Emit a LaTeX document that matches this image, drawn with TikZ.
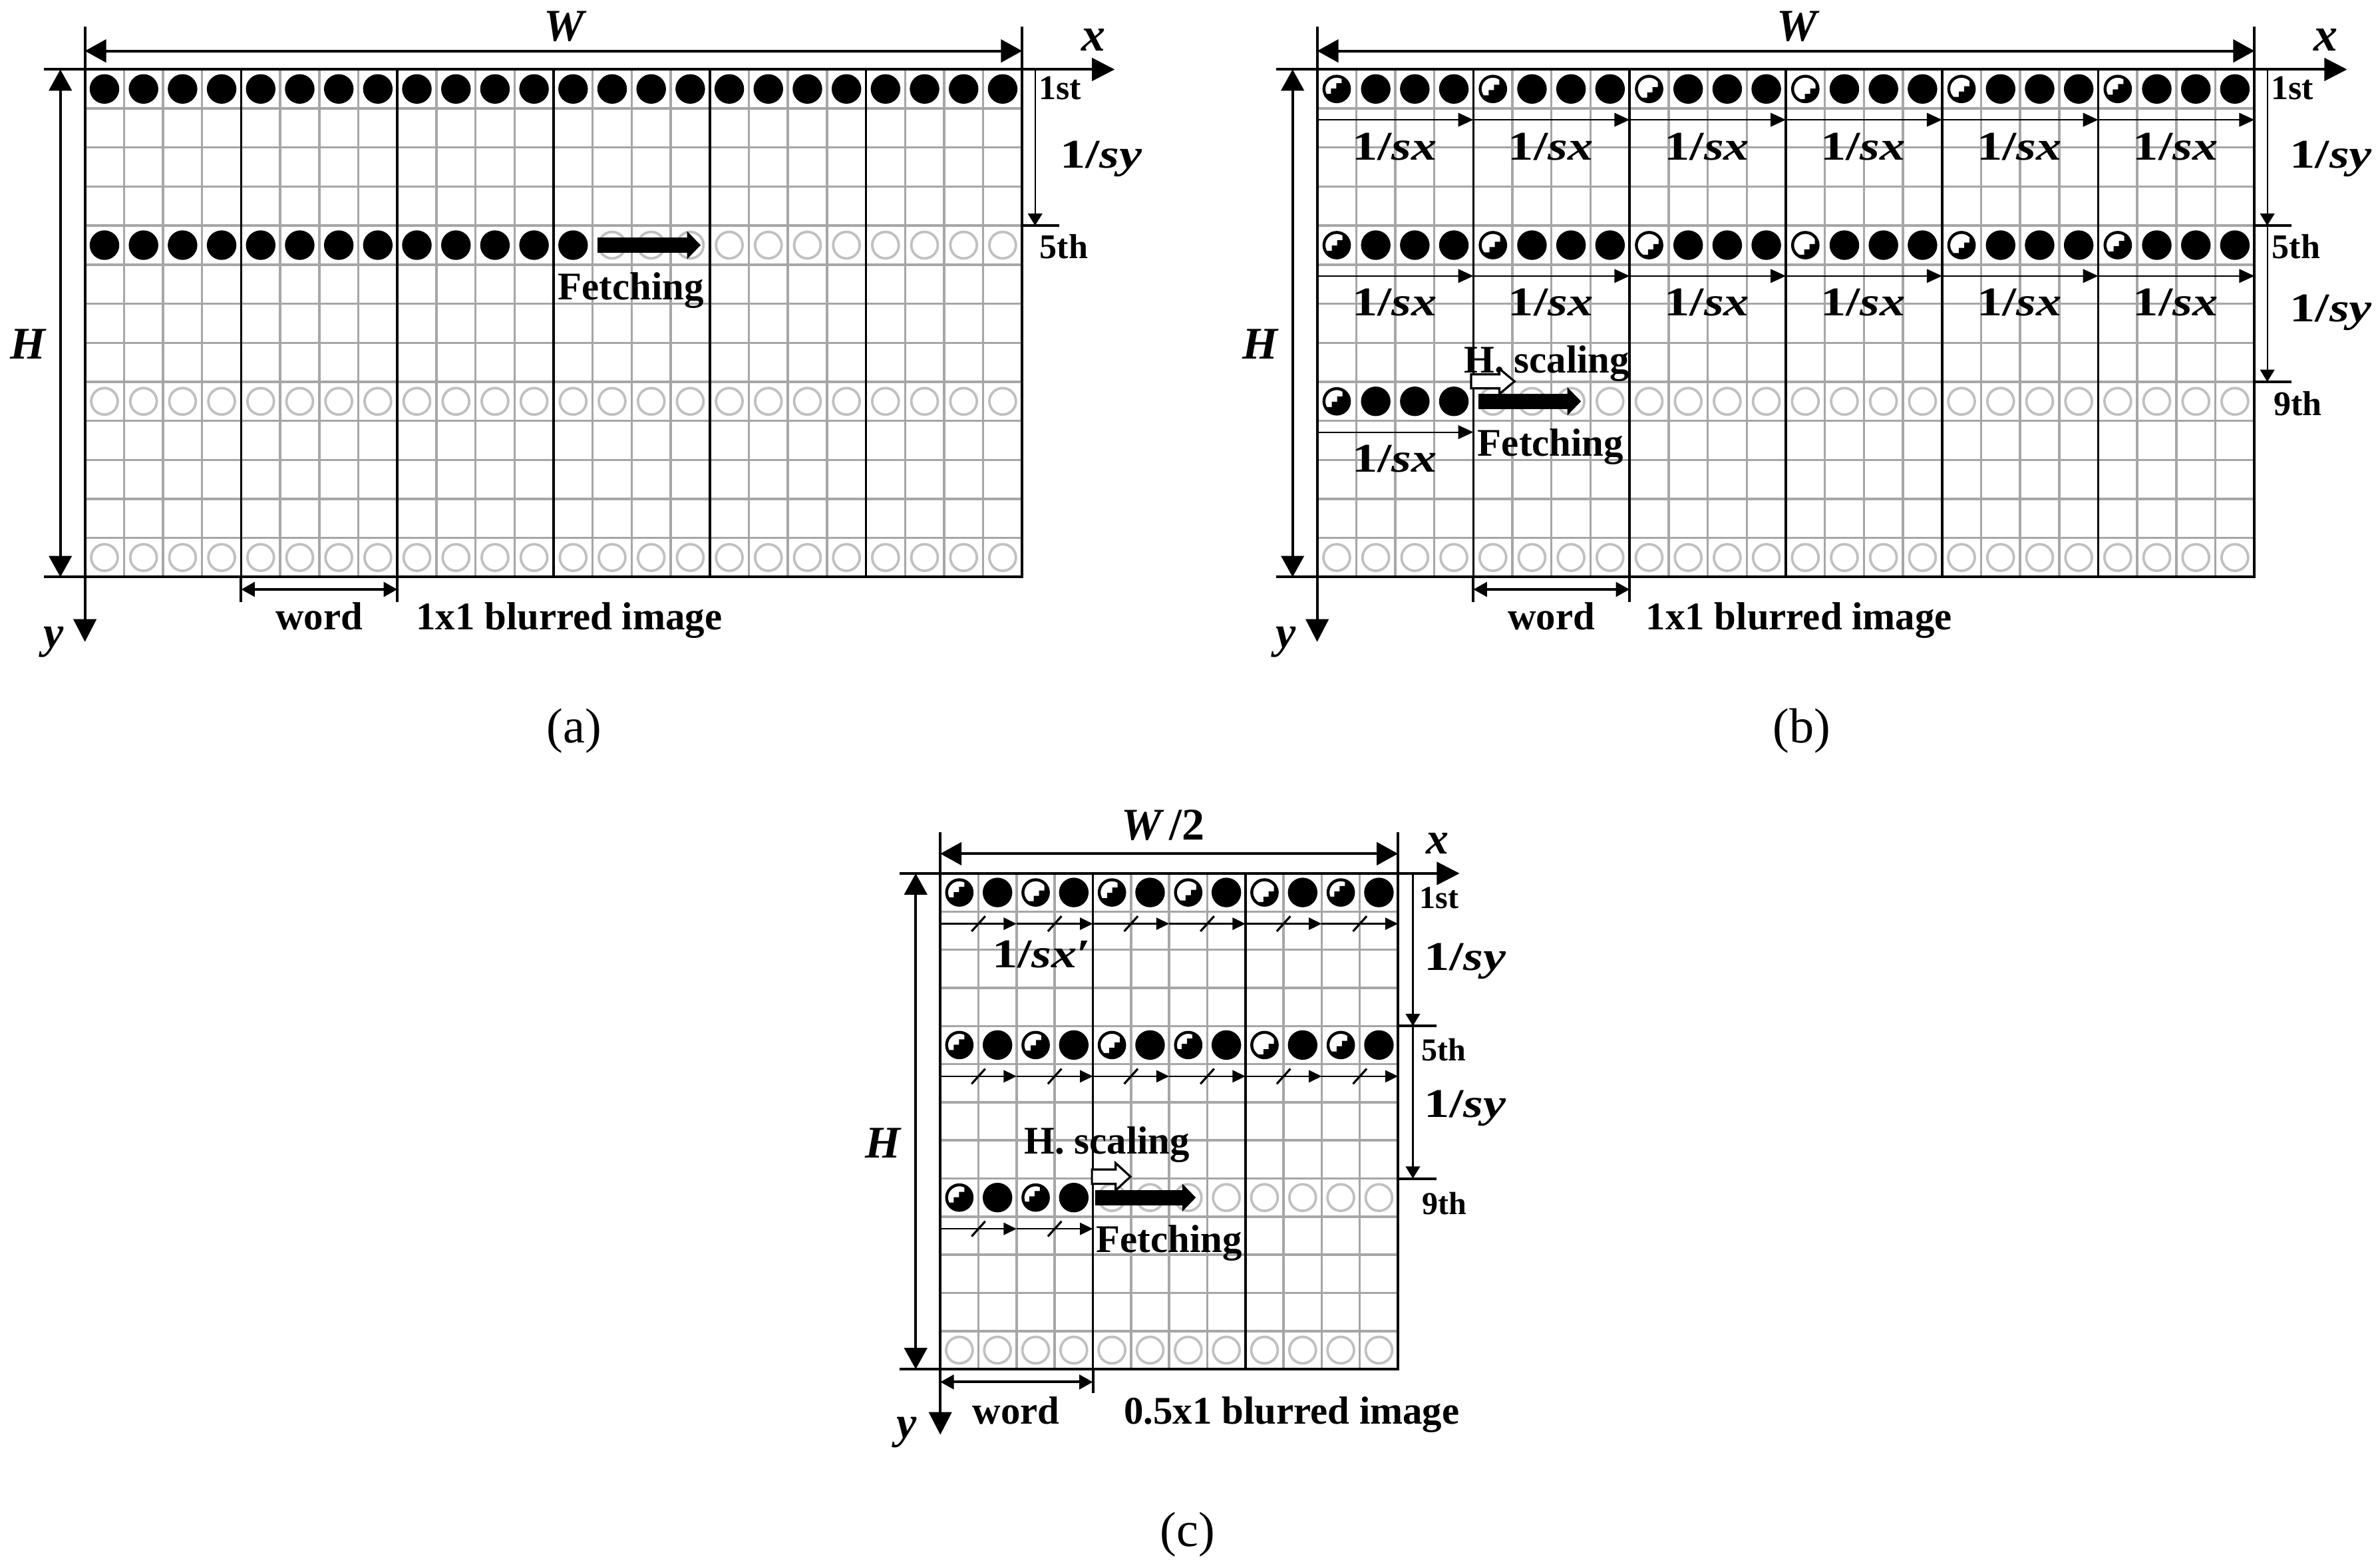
\documentclass[tikz,border=0pt]{standalone}
\usepackage{fontspec}
\setmainfont{Liberation Serif}
\usepackage{graphicx}
\usetikzlibrary{arrows.meta}
\definecolor{gridg}{HTML}{A6A6A6}
\definecolor{circg}{HTML}{C0C0C0}
\newcommand\bdot[2]{\fill[black] ({#1},{#2}) circle[radius=0.195cm];}
\newcommand\gdot[2]{\draw[circg,line width=0.95pt] ({#1},{#2}) circle[radius=0.175cm];}
\newcommand\pdot[3]{%
 \begin{scope}[shift={({#1},{#2})}]
  \begin{scope}
   \clip (0,0) circle[radius=0.16cm];
   \begin{scope}[shift={({-(#3+0.02)*1cm},{(#3+0.02)*1cm})}]
    \fill[black] (-0.3cm,-0.3cm) -- (-0.3cm,-0.175cm) -- (-0.105cm,-0.175cm) -- (-0.105cm,-0.105cm) -- (-0.035cm,-0.105cm) -- (-0.035cm,-0.035cm) -- (0.035cm,-0.035cm) -- (0.035cm,0.035cm) -- (0.105cm,0.035cm) -- (0.105cm,0.105cm) -- (0.175cm,0.105cm) -- (0.175cm,0.3cm) -- (0.3cm,0.3cm) -- (0.3cm,-0.3cm) -- cycle;
   \end{scope}
  \end{scope}
  \draw[black,line width=1.1pt] (0,0) circle[radius=0.168cm];
 \end{scope}}
\newcommand\panelgrid[4]{%
 \pgfmathsetmacro\pR{#1+#4*#3}%
 \pgfmathsetmacro\pB{#2+13*#3}%
 \pgfmathtruncatemacro\pN{#4-1}%
 \foreach \i in {1,...,\pN}{\draw[gridline] ({#1+\i*#3},#2) -- ({#1+\i*#3},\pB);}%
 \foreach \j in {1,...,12}{\draw[gridline] (#1,{#2+\j*#3}) -- (\pR,{#2+\j*#3});}%
}
\newcommand\panelwords[4]{%
 \pgfmathsetmacro\pR{#1+#4*#3}%
 \pgfmathsetmacro\pB{#2+13*#3}%
 \pgfmathtruncatemacro\pW{#4/4-1}%
 \foreach \w in {1,...,\pW}{\draw[wordline] ({#1+4*\w*#3},#2) -- ({#1+4*\w*#3},\pB);}%
 \draw[frameline] (#1,#2) rectangle (\pR,\pB);%
}
\newcommand\mlab[1]{\scalebox{1.25}[1]{#1}}
\begin{document}
\begin{tikzpicture}[x=0.02cm,y=-0.02cm,
 gridline/.style={draw=gridg,line width=0.85pt},
 wordline/.style={draw=black,line width=0.95pt},
 frameline/.style={draw=black,line width=1pt},
 axisarrow/.style={draw=black,line width=1pt,-{Triangle[length=0.3cm,width=0.3cm]}},
 bigdim/.style={draw=black,line width=1pt,{Triangle[length=0.28cm,width=0.3cm]}-{Triangle[length=0.28cm,width=0.3cm]}},
 smalldim/.style={draw=black,line width=1pt,{Triangle[length=0.18cm,width=0.19cm]}-{Triangle[length=0.18cm,width=0.19cm]}},
 thinarrow/.style={draw=black,line width=0.55pt,-{Triangle[length=0.2cm,width=0.18cm]}},
 tinyarrow/.style={draw=black,line width=0.6pt,-{Triangle[length=0.17cm,width=0.16cm]}},
 syarrow/.style={draw=black,line width=0.55pt,-{Triangle[length=0.16cm,width=0.19cm]}},
 fetch/.style={draw=black,line width=5.7pt,-{Triangle[length=0.18cm,width=0.36cm]}},
 hollowarrow/.style={draw=black,fill=white,line width=0.8pt},
 slash/.style={draw=black,line width=0.8pt},
 txt/.style={font=\fontsize{14.7pt}{16pt}\selectfont\bfseries,inner sep=0pt},
 ordab/.style={font=\fontsize{13pt}{14pt}\selectfont\bfseries,inner sep=0pt},
 ordc/.style={font=\fontsize{12pt}{13pt}\selectfont\bfseries,inner sep=0pt},
 mathlab/.style={font=\fontsize{15.3pt}{17pt}\selectfont\bfseries,inner sep=0pt,anchor=base},
 varlab/.style={font=\fontsize{17pt}{19pt}\selectfont\bfseries\itshape,inner sep=0pt},
 xlab/.style={font=\fontsize{18pt}{20pt}\selectfont\bfseries\itshape,inner sep=0pt},
 captext/.style={font=\fontsize{18.5pt}{20pt}\selectfont,inner sep=0pt}]
\useasboundingbox (0,0) rectangle (1568,1034);

%%%%%%%%%%%%%%%% panel (a)
\panelgrid{56}{45.8}{25.75}{24}
\foreach \k in {1,...,24}{\bdot{56+(\k-0.5)*25.75}{58.675}}
\foreach \k in {1,...,13}{\bdot{56+(\k-0.5)*25.75}{161.675}}
\foreach \k in {14,...,24}{\gdot{56+(\k-0.5)*25.75}{161.675}}
\foreach \k in {1,...,24}{\gdot{56+(\k-0.5)*25.75}{264.675}\gdot{56+(\k-0.5)*25.75}{367.675}}
\panelwords{56}{45.8}{25.75}{24}
\coordinate (aO) at (56,45.8);
\coordinate (aXe) at (735,45.8);
\coordinate (aYt) at (56,17.5);
\coordinate (aYe) at (56,423.3);
\coordinate (aRt) at (674,17.5);
\coordinate (aR) at (674,45.8);
\draw[axisarrow] (aO) -- (aXe);
\draw[axisarrow] (aYt) -- (aYe);
\draw[frameline] (aRt) -- (aR);
\coordinate (aW1) at (56,33.6); \coordinate (aW2) at (674,33.6);
\draw[bigdim] (aW1) -- (aW2);
\coordinate (aHt1) at (29,45.8); \coordinate (aHb1) at (29,380.55); \coordinate (aHb2) at (56,380.55);
\draw[frameline] (aHt1) -- (aO);
\draw[frameline] (aHb1) -- (aHb2);
\coordinate (aH1) at (39.8,45.8); \coordinate (aH2) at (39.8,380.55);
\draw[bigdim] (aH1) -- (aH2);
\node[varlab,anchor=base] (aWl) at (372,27) {W};
\node[xlab,anchor=base] (aXl) at (721,33.6) {x};
\node[varlab,anchor=base] (aYl) at (35.4,427) {y};
\node[varlab] (aHl) at (18.3,227) {H};
\coordinate (aS1) at (682.5,45.8); \coordinate (aS2) at (682.5,148.8);
\coordinate (aT1) at (674,148.8); \coordinate (aT2) at (698.5,148.8);
\draw[syarrow] (aS1) -- (aS2);
\draw[frameline] (aT1) -- (aT2);
\node[ordab] (a1st) at (699,58) {1st};
\node[ordab] (a5th) at (701.5,162.5) {5th};
\node[mathlab] (asy) at (726,110.6) {\mlab{1/\textit{sy}}};
\coordinate (aw1) at (159,380.55); \coordinate (aw1b) at (159,397);
\coordinate (aw2) at (262,380.55); \coordinate (aw2b) at (262,397);
\draw[frameline] (aw1) -- (aw1b);
\draw[frameline] (aw2) -- (aw2b);
\coordinate (awd1) at (159,388.7); \coordinate (awd2) at (262,388.7);
\draw[smalldim] (awd1) -- (awd2);
\node[txt,anchor=base] (aword) at (210.5,415.3) {word};
\node[txt,anchor=base west] (ablur) at (274,415.3) {1x1 blurred image};
\coordinate (aF1) at (394,161.675); \coordinate (aF2) at (462,161.675);
\draw[fetch] (aF1) -- (aF2);
\node[txt,anchor=base] (afetch) at (416,197.5) {Fetching};
\node[captext] (acap) at (378.6,482) {(a)};

%%%%%%%%%%%%%%%% panel (b)
\panelgrid{868.5}{45.8}{25.75}{24}
\foreach \w/\off in {0/0.02,1/0,2/-0.03,3/-0.05,4/-0.02,5/0.01}{%
  \pdot{868.5+(4*\w+0.5)*25.75}{58.675}{\off}
  \foreach \j in {1,2,3}{\bdot{868.5+(4*\w+\j+0.5)*25.75}{58.675}}}
\foreach \w/\off in {0/0.01,1/-0.01,2/-0.04,3/-0.04,4/-0.02,5/0}{%
  \pdot{868.5+(4*\w+0.5)*25.75}{161.675}{\off}
  \foreach \j in {1,2,3}{\bdot{868.5+(4*\w+\j+0.5)*25.75}{161.675}}}
\pdot{868.5+0.5*25.75}{264.675}{0.01}
\foreach \k in {2,3,4}{\bdot{868.5+(\k-0.5)*25.75}{264.675}}
\foreach \k in {5,...,24}{\gdot{868.5+(\k-0.5)*25.75}{264.675}}
\foreach \k in {1,...,24}{\gdot{868.5+(\k-0.5)*25.75}{367.675}}
\panelwords{868.5}{45.8}{25.75}{24}
\foreach \w in {0,...,5}{%
  \draw[thinarrow] ({868.5+103*\w},79) -- ({868.5+103*(\w+1)},79);
  \node[mathlab] at ({919.5+103*\w},105.3) {\mlab{1/\textit{sx}}};
  \draw[thinarrow] ({868.5+103*\w},182) -- ({868.5+103*(\w+1)},182);
  \node[mathlab] at ({919.5+103*\w},208.3) {\mlab{1/\textit{sx}}};}
\coordinate (bR1) at (868.5,285); \coordinate (bR2) at (971.5,285);
\draw[thinarrow] (bR1) -- (bR2);
\node[mathlab] (bsx9) at (919.5,311.3) {\mlab{1/\textit{sx}}};
\coordinate (bO) at (868.5,45.8);
\coordinate (bXe) at (1547.6,45.8);
\coordinate (bYt) at (868.5,17.5);
\coordinate (bYe) at (868.5,423.3);
\coordinate (bRt) at (1486.5,17.5);
\coordinate (bR) at (1486.5,45.8);
\draw[axisarrow] (bO) -- (bXe);
\draw[axisarrow] (bYt) -- (bYe);
\draw[frameline] (bRt) -- (bR);
\coordinate (bW1) at (868.5,33.6); \coordinate (bW2) at (1486.5,33.6);
\draw[bigdim] (bW1) -- (bW2);
\coordinate (bHt1) at (841.5,45.8); \coordinate (bHb1) at (841.5,380.55); \coordinate (bHb2) at (868.5,380.55);
\draw[frameline] (bHt1) -- (bO);
\draw[frameline] (bHb1) -- (bHb2);
\coordinate (bH1) at (852.3,45.8); \coordinate (bH2) at (852.3,380.55);
\draw[bigdim] (bH1) -- (bH2);
\node[varlab,anchor=base] (bWl) at (1185,27) {W};
\node[xlab,anchor=base] (bXl) at (1533.5,33.6) {x};
\node[varlab,anchor=base] (bYl) at (847.9,427) {y};
\node[varlab] (bHl) at (830.8,227) {H};
\coordinate (bS1) at (1495,45.8); \coordinate (bS2) at (1495,148.8); \coordinate (bS3) at (1495,251.8);
\coordinate (bT1) at (1486.5,148.8); \coordinate (bT2) at (1511,148.8);
\coordinate (bU1) at (1486.5,251.8); \coordinate (bU2) at (1511,251.8);
\draw[syarrow] (bS1) -- (bS2);
\draw[syarrow] (bS2) -- (bS3);
\draw[frameline] (bT1) -- (bT2);
\draw[frameline] (bU1) -- (bU2);
\node[ordab] (b1st) at (1511.5,58) {1st};
\node[ordab] (b5th) at (1514,162.5) {5th};
\node[ordab] (b9th) at (1515,266) {9th};
\node[mathlab] (bsy1) at (1537,110.6) {\mlab{1/\textit{sy}}};
\node[mathlab] (bsy2) at (1537,212) {\mlab{1/\textit{sy}}};
\coordinate (bw1) at (971.5,380.55); \coordinate (bw1b) at (971.5,397);
\coordinate (bw2) at (1074.5,380.55); \coordinate (bw2b) at (1074.5,397);
\draw[frameline] (bw1) -- (bw1b);
\draw[frameline] (bw2) -- (bw2b);
\coordinate (bwd1) at (971.5,388.7); \coordinate (bwd2) at (1074.5,388.7);
\draw[smalldim] (bwd1) -- (bwd2);
\node[txt,anchor=base] (bword) at (1023,415.3) {word};
\node[txt,anchor=base west] (bblur) at (1085,415.3) {1x1 blurred image};
\coordinate (bF1) at (975,264.675); \coordinate (bF2) at (1042.5,264.675);
\draw[fetch] (bF1) -- (bF2);
\node[txt,anchor=base west] (bhs) at (965,246) {H. scaling};
\draw[hollowarrow] (970,246.9) -- (988.7,246.9) -- (988.7,243.2) -- (998.6,251.5) -- (988.7,259.8) -- (988.7,256.1) -- (970,256.1) -- cycle;
\node[txt,anchor=base west] (bfetch) at (974,300.8) {Fetching};
\node[captext] (bcap) at (1188,482) {(b)};

%%%%%%%%%%%%%%%% panel (c)
\panelgrid{620}{576}{25.15}{12}
\foreach \k/\off in {1/0.02,3/-0.03,5/0.01,7/-0.02,9/-0.04,11/0.03}{%
  \pdot{620+(\k-0.5)*25.15}{588.575}{\off}
  \bdot{620+(\k+0.5)*25.15}{588.575}}
\foreach \k/\off in {1/0.02,3/0.01,5/-0.02,7/0.03,9/-0.04,11/0}{%
  \pdot{620+(\k-0.5)*25.15}{689.175}{\off}
  \bdot{620+(\k+0.5)*25.15}{689.175}}
\foreach \k/\off in {1/0.02,3/0.03}{%
  \pdot{620+(\k-0.5)*25.15}{789.775}{\off}
  \bdot{620+(\k+0.5)*25.15}{789.775}}
\foreach \k in {5,...,12}{\gdot{620+(\k-0.5)*25.15}{789.775}}
\foreach \k in {1,...,12}{\gdot{620+(\k-0.5)*25.15}{890.375}}
\panelwords{620}{576}{25.15}{12}
\foreach \m in {0,...,5}{%
  \draw[tinyarrow] ({620+50.3*\m},609.2) -- ({620+50.3*(\m+1)},609.2);
  \draw[slash] ({620+50.3*\m+25.15-4.5},614.2) -- ({620+50.3*\m+25.15+4.5},604.2);
  \draw[tinyarrow] ({620+50.3*\m},709.8) -- ({620+50.3*(\m+1)},709.8);
  \draw[slash] ({620+50.3*\m+25.15-4.5},714.8) -- ({620+50.3*\m+25.15+4.5},704.8);}
\foreach \m in {0,1}{%
  \draw[tinyarrow] ({620+50.3*\m},810.4) -- ({620+50.3*(\m+1)},810.4);
  \draw[slash] ({620+50.3*\m+25.15-4.5},815.4) -- ({620+50.3*\m+25.15+4.5},805.4);}
\node[mathlab] (csx) at (687,638) {\mlab{1/\textit{sx}′}};
\coordinate (cO) at (620,576);
\coordinate (cXe) at (962.4,576);
\coordinate (cYt) at (620,549);
\coordinate (cYe) at (620,946.2);
\coordinate (cRt) at (921.8,549);
\coordinate (cR) at (921.8,576);
\draw[axisarrow] (cO) -- (cXe);
\draw[axisarrow] (cYt) -- (cYe);
\draw[frameline] (cRt) -- (cR);
\coordinate (cW1) at (620,563); \coordinate (cW2) at (921.8,563);
\draw[bigdim] (cW1) -- (cW2);
\coordinate (cHt1) at (593,576); \coordinate (cHb1) at (593,902.95); \coordinate (cHb2) at (620,902.95);
\draw[frameline] (cHt1) -- (cO);
\draw[frameline] (cHb1) -- (cHb2);
\coordinate (cH1) at (603.8,576); \coordinate (cH2) at (603.8,902.95);
\draw[bigdim] (cH1) -- (cH2);
\node[varlab,anchor=base] (cWl) at (767,553.7) {W\,\upshape/2};
\node[varlab,anchor=base] (cXl) at (948,563) {x};
\node[varlab,anchor=base] (cYl) at (597.6,948.4) {y};
\node[varlab] (cHl) at (582.3,753.8) {H};
\coordinate (cS1) at (931.6,576); \coordinate (cS2) at (931.6,676.6); \coordinate (cS3) at (931.6,777.2);
\coordinate (cT1) at (921.8,676.6); \coordinate (cT2) at (947,676.6);
\coordinate (cU1) at (921.8,777.2); \coordinate (cU2) at (947,777.2);
\draw[syarrow] (cS1) -- (cS2);
\draw[syarrow] (cS2) -- (cS3);
\draw[frameline] (cT1) -- (cT2);
\draw[frameline] (cU1) -- (cU2);
\node[ordc] (c1st) at (949,592.2) {1st};
\node[ordc] (c5th) at (952,692.3) {5th};
\node[ordc] (c9th) at (952.5,793.8) {9th};
\node[mathlab] (csy1) at (966,640) {\mlab{1/\textit{sy}}};
\node[mathlab] (csy2) at (966,737) {\mlab{1/\textit{sy}}};
\coordinate (cw2) at (720.6,902.95); \coordinate (cw2b) at (720.6,918.5);
\draw[frameline] (cw2) -- (cw2b);
\coordinate (cwd1) at (620,911.4); \coordinate (cwd2) at (720.6,911.4);
\draw[smalldim] (cwd1) -- (cwd2);
\node[txt,anchor=base] (cword) at (670,939) {word};
\node[txt,anchor=base west] (cblur) at (740.8,939) {0.5x1 blurred image};
\coordinate (cF1) at (722.3,789.775); \coordinate (cF2) at (788.5,789.775);
\draw[fetch] (cF1) -- (cF2);
\node[txt,anchor=base west] (chs) at (675,761) {H. scaling};
\draw[hollowarrow] (720,771.3) -- (735.6,771.3) -- (735.6,767) -- (745.4,776) -- (735.6,785) -- (735.6,780.7) -- (720,780.7) -- cycle;
\node[txt,anchor=base west] (cfetch) at (722.5,826) {Fetching};
\node[captext] (ccap) at (783,1012) {(c)};
\end{tikzpicture}
\end{document}
